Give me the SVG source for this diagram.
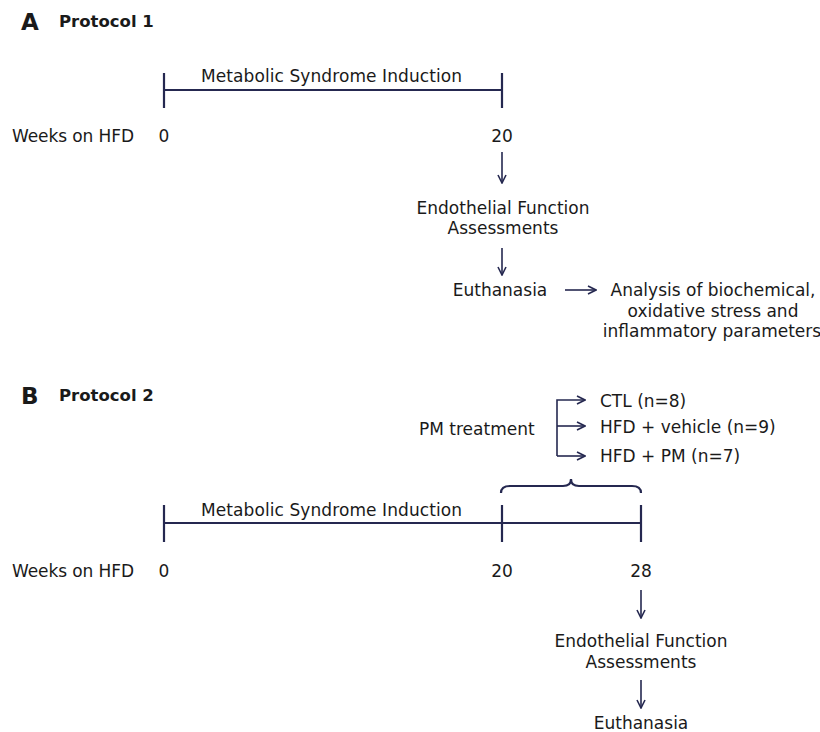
<svg xmlns="http://www.w3.org/2000/svg" width="820" height="732" viewBox="0 0 820 732">
<defs>
<marker id="ah" viewBox="0 0 10 10" refX="9" refY="5" markerWidth="10" markerHeight="10" markerUnits="userSpaceOnUse" orient="auto">
<path d="M1,1 L9,5 L1,9" fill="none" stroke="#252850" stroke-width="1.6"/>
</marker>
<style>
text{font-family:"DejaVu Sans","Liberation Sans",sans-serif;font-size:17px;fill:#1a1a1a}
.h{font-weight:bold;font-size:16.5px}
.L{font-weight:bold;font-size:23px}
.m{text-anchor:middle}
.ln{stroke:#252850;stroke-width:2.2;fill:none}
.ar{stroke:#252850;stroke-width:1.6;fill:none;marker-end:url(#ah)}
</style>
</defs>
<rect width="820" height="732" fill="#fff"/>
<g id="panelA">
<text class="L" x="21" y="30">A</text>
<text class="h" x="59" y="27">Protocol 1</text>
<g id="timelineA">
<path class="ln" d="M164,90 H502 M164,73 V108 M502,73 V108"/>
<text x="201" y="82" textLength="261">Metabolic Syndrome Induction</text>
<text x="12" y="142" textLength="122">Weeks on HFD</text>
<text class="m" x="164" y="142">0</text>
<text class="m" x="502" y="142">20</text>
</g>
<g id="endoA"><text class="m" x="503" y="214">Endothelial Function</text><text class="m" x="503" y="234">Assessments</text></g>
<g id="euthA"><text class="m" x="500" y="296">Euthanasia</text></g>
<g id="analysisA"><text class="m" x="713" y="296">Analysis of biochemical,</text><text class="m" x="713" y="317">oxidative stress and</text><text class="m" x="712" y="337">inflammatory parameters</text></g>
</g>
<g id="panelB">
<text class="L" x="21" y="404">B</text>
<text class="h" x="59" y="401">Protocol 2</text>
<g id="pm"><text x="419" y="435">PM treatment</text></g>
<g id="ctl"><text x="600" y="407">CTL (n=8)</text></g>
<g id="veh"><text x="600" y="433">HFD + vehicle (n=9)</text></g>
<g id="pmg"><text x="600" y="462">HFD + PM (n=7)</text></g>
<g id="timelineB">
<path class="ln" d="M164,523 H641 M164,505 V542 M502,505 V542 M641,505 V542"/>
<path class="ln" d="M501,493 Q501,486 510,486 L563,486 Q571,486 571,479 Q571,486 579,486 L632,486 Q641,486 641,493" stroke-width="2"/>
<text x="201" y="516" textLength="261">Metabolic Syndrome Induction</text>
<text x="12" y="577" textLength="122">Weeks on HFD</text>
<text class="m" x="164" y="577">0</text>
<text class="m" x="502" y="577">20</text>
<text class="m" x="641" y="577">28</text>
</g>
<g id="endoB"><text class="m" x="641" y="647">Endothelial Function</text><text class="m" x="641" y="668">Assessments</text></g>
<g id="euthB"><text class="m" x="641" y="729">Euthanasia</text></g>
</g>
<g id="connectors">
<path class="ar" d="M502,152 V183"/>
<path class="ar" d="M502,248 V275"/>
<path class="ar" d="M565,290 H596"/>
<path class="ar" d="M557,456 V400 H585"/>
<path class="ar" d="M557,426 H585"/>
<path class="ar" d="M557,456 H585"/>
<path class="ar" d="M641,590 V618"/>
<path class="ar" d="M641,680 V708"/>
</g>
</svg>
